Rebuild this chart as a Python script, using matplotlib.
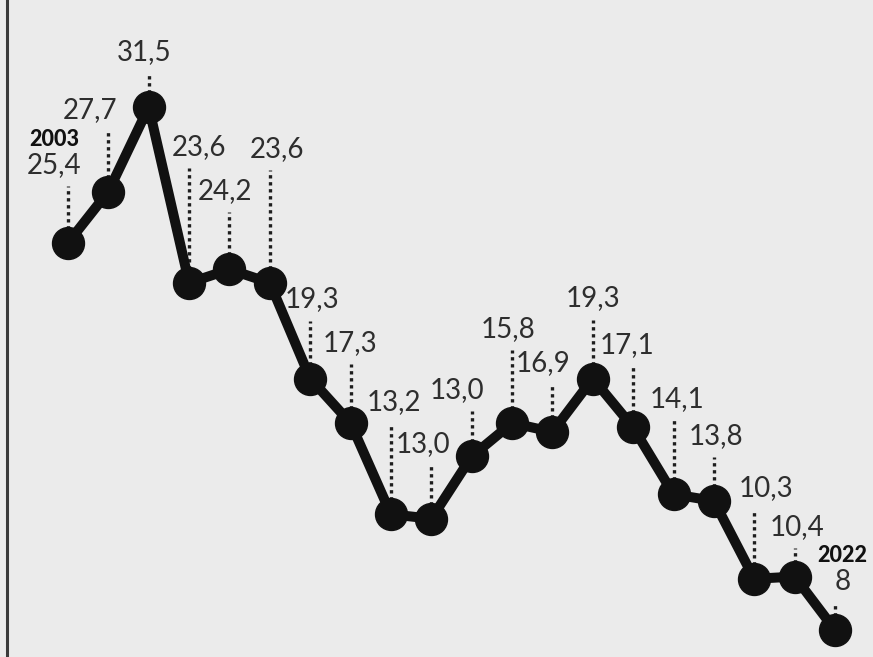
import matplotlib
matplotlib.use("Agg")
import matplotlib.pyplot as plt
from matplotlib.lines import Line2D

# ---- data ----
years = list(range(2003, 2023))
# plotted heights of the points (as drawn in the reference)
values = [25.4, 27.7, 31.5, 23.6, 24.2, 23.6, 19.3, 17.3, 13.2, 13.0,
          15.8, 17.3, 16.9, 19.3, 17.1, 14.1, 13.8, 10.3, 10.4, 8.0]
# printed value labels
labels = ["25,4", "27,7", "31,5", "23,6", "24,2", "23,6", "19,3", "17,3", "13,2", "13,0",
          "13,0", "15,8", "16,9", "19,3", "17,1", "14,1", "13,8", "10,3", "10,4", "8"]
first_year_label = "2003"
last_year_label = "2022"

# ---- layout (label offsets from the point, in pixels) ----
label_dx = [-14, -18, -5, 10, -4, 7, 2, -1, 3, -8, -15, -4, -9, 0, -6, 4, 2, 12, 2, 8]
label_dy = [78, 82, 55, 136, 78, 134, 79, 80, 112, 75, 66, 94, 69, 80, 82, 95, 65, 91, 50, 48]

W, H, DPI = 873, 657, 100
BG = "#ebebeb"
fig = plt.figure(figsize=(W / DPI, H / DPI), dpi=DPI, facecolor=BG)
ax = fig.add_axes([0, 0, 1, 1])
ax.set_facecolor(BG)
ax.axis("off")

px_per_year = 40.37
px_per_unit = 22.255
ax.set_xlim(2003 - 68 / px_per_year, 2003 + (W - 68) / px_per_year)
ax.set_ylim(8 - 27 / px_per_unit, 31.5 + 107 / px_per_unit)

# line with markers
ax.plot(years, values, color="#111111", lw=7.2, marker="o", markersize=23,
        markerfacecolor="#111111", markeredgecolor="#111111", zorder=3,
        solid_joinstyle="miter")

num_font = dict(family=["Lato", "DejaVu Sans"], weight="normal", size=20, color="#2e2e2e")
year_font = dict(family=["Lato", "DejaVu Sans"], weight="black", size=15.5, color="#111111")

for i, (yr, v, lab) in enumerate(zip(years, values, labels)):
    dx, dy = label_dx[i], label_dy[i]
    ax.annotate(lab, xy=(yr, v), xytext=(dx, dy), textcoords="offset pixels",
                ha="center", va="center", zorder=4, **num_font)
    # dotted leader from label down to point
    top = v + (dy - 21) / px_per_unit
    ax.plot([yr, yr], [v, top], color="#1e1e1e", lw=2.4,
            linestyle=(0, (1.0, 1.1)), zorder=2, dash_capstyle="butt")

# bold year labels
ax.annotate(first_year_label, xy=(years[0], values[0]), xytext=(label_dx[0], label_dy[0] + 25),
            textcoords="offset pixels", ha="center", va="center", zorder=4, **year_font)
ax.annotate(last_year_label, xy=(years[-1], values[-1]), xytext=(label_dx[-1] - 1, label_dy[-1] + 26),
            textcoords="offset pixels", ha="center", va="center", zorder=4, **year_font)

# left border line
fig.add_artist(Line2D([7 / W, 7 / W], [0, 1], color="#3a3a3a", lw=2.2,
                      transform=fig.transFigure))

fig.savefig("out.png", dpi=DPI, facecolor=BG)
